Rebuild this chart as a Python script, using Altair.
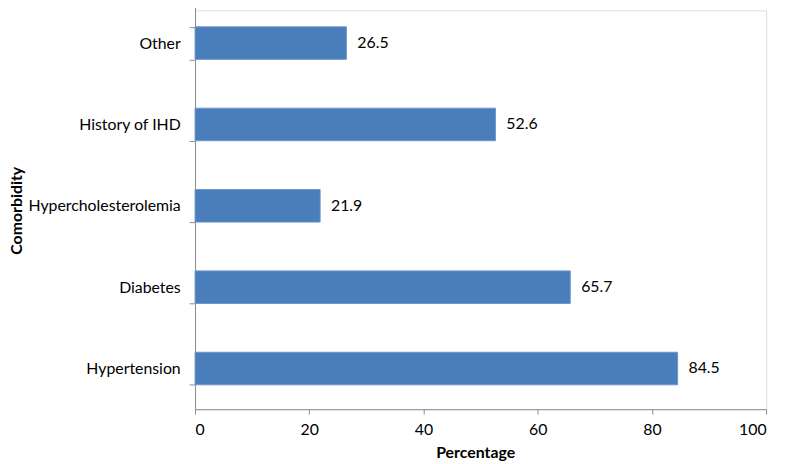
import altair as alt
import pandas as pd

categories = ["Other", "History of IHD", "Hypercholesterolemia", "Diabetes", "Hypertension"]
values = [26.5, 52.6, 21.9, 65.7, 84.5]
x_ticks = [0, 20, 40, 60, 80, 100]

df = pd.DataFrame({"cat": categories, "val": values})
df["lab"] = [f"{v:.1f}" for v in values]

FONT = "Lato"

y_enc = alt.Y(
    "cat:N",
    sort=categories,
    scale=alt.Scale(paddingInner=0.6, paddingOuter=0.3, range=[-8, 403]),
    axis=alt.Axis(
        title="Comorbidity",
        titleFont=FONT, titleFontSize=16, titleFontWeight="bold", titleColor="black",
        titleAngle=-90, titleX=-180, titleY=202, titleAlign="center", titleBaseline="middle",
        labelFont=FONT, labelFontSize=16, labelColor="black", labelPadding=9,
        domainColor="#8c8c8c", tickColor="#8c8c8c", tickSize=6, tickBand="extent",
        grid=False,
    ),
)

x_enc = alt.X(
    "val:Q",
    scale=alt.Scale(domain=[0, 100], nice=False),
    axis=alt.Axis(
        values=x_ticks, title="Percentage",
        titleFont=FONT, titleFontSize=16, titleFontWeight="bold", titleColor="black",
        titleX=283, titleY=44, titleBaseline="middle",
        labelFont=FONT, labelFontSize=16, labelColor="black", labelPadding=8,
        domainColor="#8c8c8c", tickColor="#8c8c8c", tickSize=5, grid=False,
    ),
)

bars = alt.Chart(df).mark_bar(color="#4a7ebb", stroke="#6b96cc", strokeWidth=1).encode(
    x=x_enc, y=y_enc
)

labels = alt.Chart(df).mark_text(
    align="left", baseline="middle", dx=11, font=FONT, fontSize=16, color="black"
).encode(x="val:Q", y=alt.Y("cat:N", sort=categories), text="lab:N")

chart = (bars + labels).properties(
    width=577, height=403,
    autosize=alt.AutoSizeParams(type="none"),
    padding={"left": 189, "top": 0, "right": 13, "bottom": 53},
).configure_view(stroke=None).configure(background="white")

chart.save("out.html", embed_options={"renderer": "svg", "actions": False})
